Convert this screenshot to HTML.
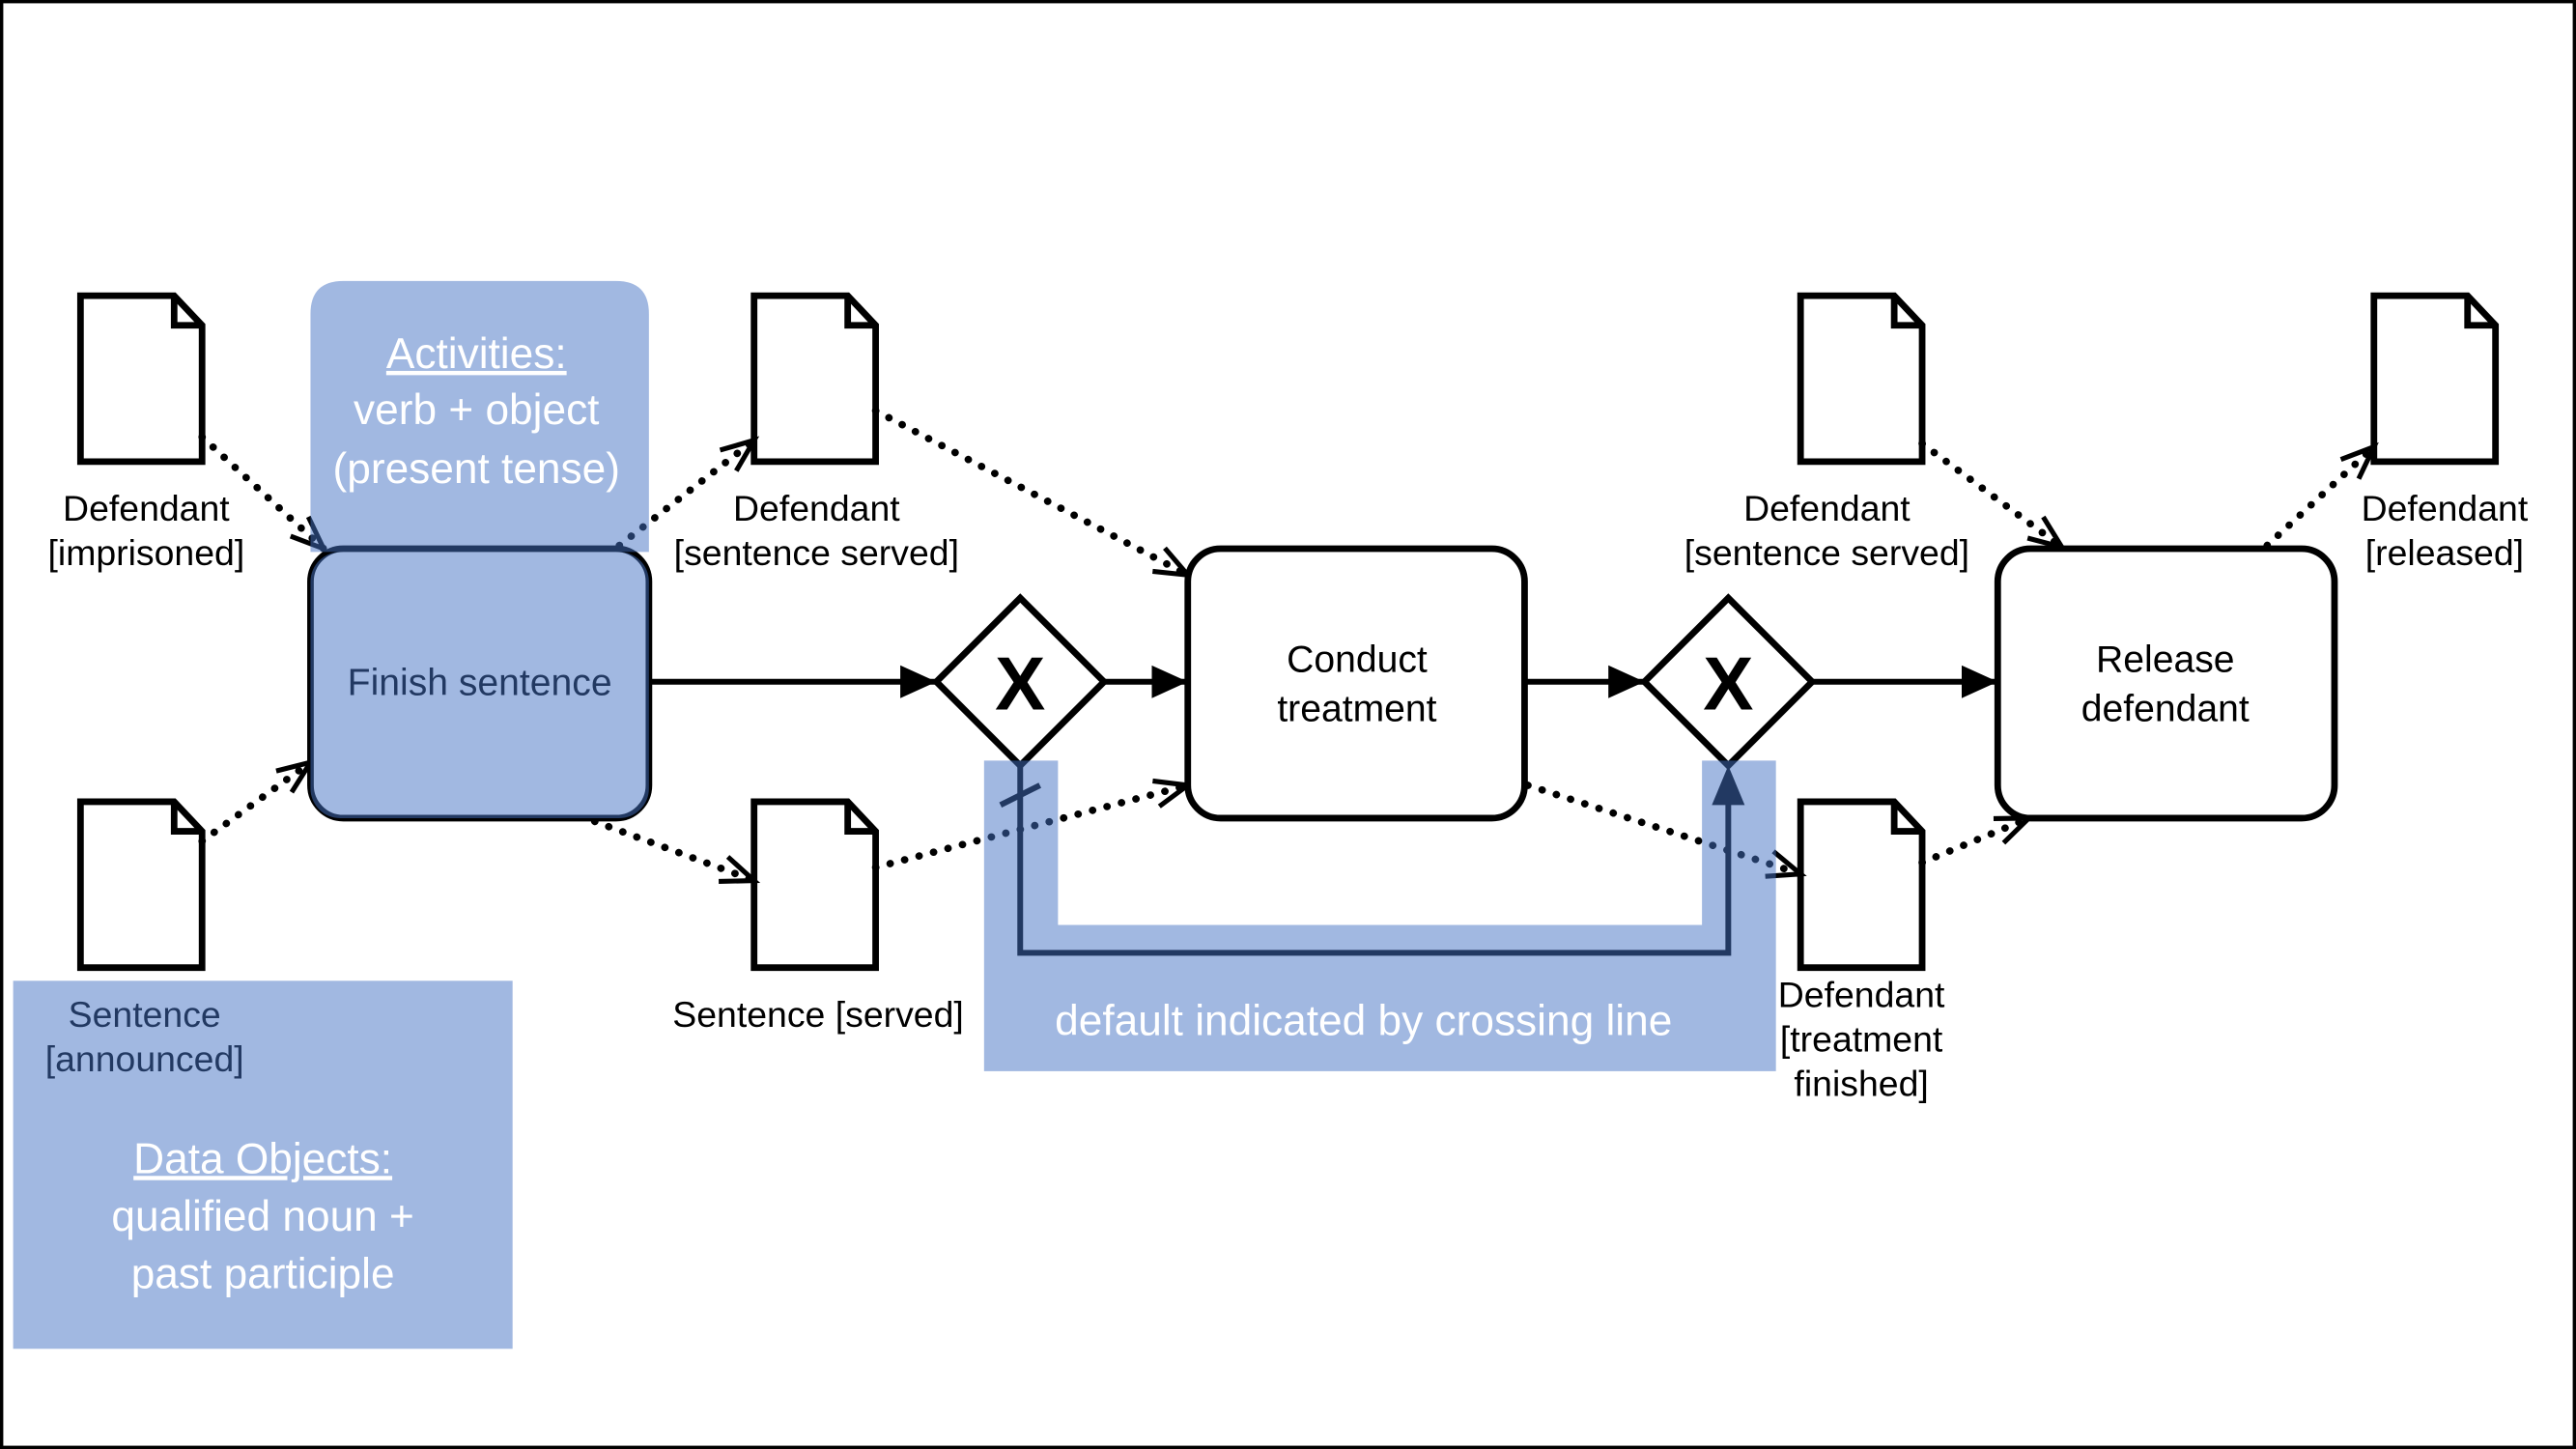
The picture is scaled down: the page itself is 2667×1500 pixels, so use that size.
<!DOCTYPE html>
<html><head><meta charset="utf-8"><style>
html,body{margin:0;padding:0;background:#fff;width:2667px;height:1500px;overflow:hidden}
svg{display:block}
text{font-family:"Liberation Sans",sans-serif}
</style></head><body>
<svg width="2667" height="1500" viewBox="0 0 1568 882" preserveAspectRatio="none" xmlns="http://www.w3.org/2000/svg">
<defs>
<marker id="oa" markerUnits="userSpaceOnUse" markerWidth="30" markerHeight="30" refX="22" refY="10" orient="auto" viewBox="0 0 30 20">
<path d="M2,2 L22,10 L2,18" fill="none" stroke="#000" stroke-width="3"/></marker>
<marker id="fa" markerUnits="userSpaceOnUse" markerWidth="24" markerHeight="24" refX="22" refY="10" orient="auto" viewBox="0 0 24 20">
<path d="M0,0 L22,10 L0,20 Z" fill="#000"/></marker>
<g id="doc"><path d="M0,0 H57 L74,18 V101 H0 Z" fill="#fff" stroke="#000" stroke-width="4"/><path d="M57,0 V18 H74" fill="none" stroke="#000" stroke-width="4"/></g>
</defs>
<rect x="1" y="1" width="1566" height="880" fill="#fff" stroke="#000" stroke-width="2"/>

<use href="#doc" x="49" y="180"/><use href="#doc" x="49" y="488"/>
<use href="#doc" x="459" y="180"/><use href="#doc" x="459" y="488"/>
<use href="#doc" x="1096" y="180"/><use href="#doc" x="1096" y="488"/>
<use href="#doc" x="1445" y="180"/>

<g font-size="22" text-anchor="middle" fill="#000">
<text x="89" y="317">Defendant</text><text x="89" y="344">[imprisoned]</text>
<text x="88" y="625">Sentence</text><text x="88" y="652">[announced]</text>
<text x="497" y="317">Defendant</text><text x="497" y="344">[sentence served]</text>
<text x="498" y="625">Sentence [served]</text>
<text x="1112" y="317">Defendant</text><text x="1112" y="344">[sentence served]</text>
<text x="1133" y="613">Defendant</text><text x="1133" y="640">[treatment</text><text x="1133" y="667">finished]</text>
<text x="1488" y="317">Defendant</text><text x="1488" y="344">[released]</text>
</g>

<g stroke="#000" stroke-width="4.5" stroke-dasharray="0.1 9" stroke-linecap="round" fill="none">
<line x1="123" y1="266" x2="197" y2="334" marker-end="url(#oa)"/>
<line x1="123" y1="512" x2="189" y2="464" marker-end="url(#oa)"/>
<line x1="377" y1="332" x2="459" y2="268" marker-end="url(#oa)"/>
<line x1="362" y1="500" x2="459" y2="536" marker-end="url(#oa)"/>
<line x1="533" y1="250" x2="723" y2="350" marker-end="url(#oa)"/>
<line x1="533" y1="528" x2="723" y2="478" marker-end="url(#oa)"/>
<line x1="930" y1="478" x2="1096" y2="532" marker-end="url(#oa)"/>
<line x1="1170" y1="270" x2="1255" y2="333" marker-end="url(#oa)"/>
<line x1="1170" y1="525" x2="1235" y2="498" marker-end="url(#oa)"/>
<line x1="1380" y1="332" x2="1445" y2="272" marker-end="url(#oa)"/>
</g>

<g stroke="#000" stroke-width="3.5" fill="none">
<line x1="395" y1="415" x2="570" y2="415" marker-end="url(#fa)"/>
<line x1="672" y1="415" x2="723" y2="415" marker-end="url(#fa)"/>
<line x1="928" y1="415" x2="1001" y2="415" marker-end="url(#fa)"/>
<line x1="1103" y1="415" x2="1216" y2="415" marker-end="url(#fa)"/>
<path d="M621,466 V580 H1052 V485"/>
<line x1="609" y1="490" x2="633" y2="478"/>
</g>
<path d="M1052,466 L1042,490 L1062,490 Z" fill="#000"/>

<g fill="#fff" stroke="#000" stroke-width="4">
<rect x="189" y="334" width="206" height="164" rx="20"/>
<rect x="723" y="334" width="205" height="164" rx="20"/>
<rect x="1216" y="334" width="205" height="164" rx="20"/>
<path d="M621,364 L672,415 L621,466 L570,415 Z"/>
<path d="M1052,364 L1103,415 L1052,466 L1001,415 Z"/>
</g>
<g font-size="46" font-weight="bold" text-anchor="middle"><text x="621" y="432">X</text><text x="1052" y="432">X</text></g>
<g font-size="23" text-anchor="middle">
<text x="292" y="423">Finish sentence</text>
<text x="826" y="409">Conduct</text><text x="826" y="439">treatment</text>
<text x="1318" y="409">Release</text><text x="1318" y="439">defendant</text>
</g>

<g fill="rgb(68,114,196)" fill-opacity="0.5">
<path d="M189,336 V191 Q189,171 209,171 H375 Q395,171 395,191 V336 Z"/>
<rect x="189" y="336" width="206" height="162" rx="18"/>
<rect x="8" y="597" width="304" height="224"/>
<path d="M599,463 H644 V563 H1036 V463 H1081 V652 H599 Z"/>
</g>
<g fill="#fff" text-anchor="middle" font-size="26">
<text x="290" y="224" text-decoration="underline">Activities:</text>
<text x="290" y="258">verb + object</text>
<text x="290" y="294">(present tense)</text>
<text x="160" y="714" text-decoration="underline">Data Objects:</text>
<text x="160" y="749">qualified noun +</text>
<text x="160" y="784">past participle</text>
<text x="830" y="630">default indicated by crossing line</text>
</g>
</svg>
</body></html>
